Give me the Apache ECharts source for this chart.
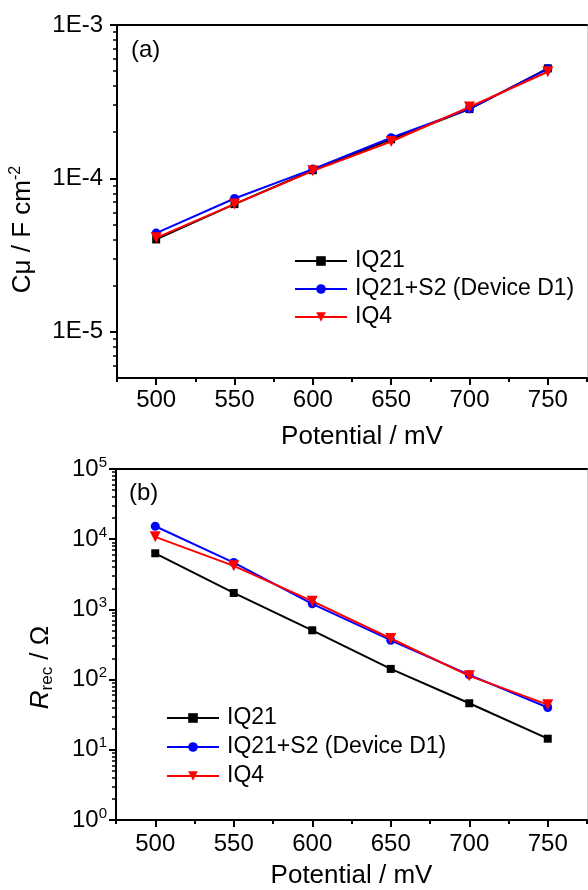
<!DOCTYPE html>
<html><head><meta charset="utf-8">
<script src="https://cdn.jsdelivr.net/npm/echarts@6/dist/echarts.min.js"></script>
<style>html,body{margin:0;padding:0;background:#fff}#c{width:588px;height:890px}</style>
</head><body><div id="c"></div>
<script>
// ---- data ----
const potentials = [500, 550, 600, 650, 700, 750];
const seriesNames = ['IQ21', 'IQ21+S2 (Device D1)', 'IQ4'];
const cmuIQ21   = [4.0e-5, 6.8e-5, 1.13e-4, 1.80e-4, 2.83e-4, 5.22e-4];
const cmuIQ21S2 = [4.4e-5, 7.4e-5, 1.15e-4, 1.84e-4, 2.84e-4, 5.18e-4];
const cmuIQ4    = [4.1e-5, 6.8e-5, 1.12e-4, 1.74e-4, 2.92e-4, 4.96e-4];
const rrecIQ21   = [6300, 1715, 504, 142, 46, 14.4];
const rrecIQ21S2 = [15300, 4650, 1200, 364, 117, 40];
const rrecIQ4    = [10800, 4170, 1310, 385, 113, 44];
const xMajorTicks = [500, 550, 600, 650, 700, 750];
const xMinorTicks = [475, 525, 575, 625, 675, 725, 775];
const cmuMajorTicks = [1e-5, 1e-4, 1e-3];
const cmuMinorTicks = [6e-6, 7e-6, 8e-6, 9e-6,
  2e-5, 3e-5, 4e-5, 5e-5, 6e-5, 7e-5, 8e-5, 9e-5,
  2e-4, 3e-4, 4e-4, 5e-4, 6e-4, 7e-4, 8e-4, 9e-4];
const rrecMajorTicks = [1, 10, 100, 1000, 10000, 100000];
const rrecMinorTicks = [2, 3, 4, 5, 6, 7, 8, 9,
  20, 30, 40, 50, 60, 70, 80, 90,
  200, 300, 400, 500, 600, 700, 800, 900,
  2000, 3000, 4000, 5000, 6000, 7000, 8000, 9000,
  20000, 30000, 40000, 50000, 60000, 70000, 80000, 90000];

const FONT = 'Liberation Sans, Arial, sans-serif';
const colors = ['#000000', '#0000ff', '#ff0000'];
const symbols = ['rect', 'circle', 'triangle'];
const symSizes = [8, 9, 11];
const symRot = [0, 0, 180];

function pairs(ys) { return potentials.map((x, i) => [x, ys[i]]); }

function xAxes(gi, titlePad, nameGap, labelMargin) {
  return [
    { gridIndex: gi, type: 'value', min: 475, max: 775, interval: 25, position: 'bottom',
      axisLine: { show: true, lineStyle: { color: '#000', width: 2 } },
      axisTick: { show: true, customValues: xMajorTicks, length: 7, lineStyle: { color: '#000', width: 2 } },
      axisLabel: { show: true, customValues: xMajorTicks, fontSize: 24, color: '#000', fontFamily: FONT, margin: labelMargin,
        formatter: v => (v % 50 === 0 ? String(v) : '') },
      splitLine: { show: false },
      name: 'Potential / mV', nameLocation: 'middle', nameGap: nameGap,
      nameTextStyle: { fontSize: 26, color: '#000', fontFamily: FONT, padding: titlePad } },
    { gridIndex: gi, type: 'value', min: 475, max: 775, interval: 25, position: 'bottom',
      axisLine: { show: false },
      axisTick: { show: true, customValues: xMinorTicks, length: 4, lineStyle: { color: '#000', width: 2 } },
      axisLabel: { show: false }, splitLine: { show: false } },
    { gridIndex: gi, type: 'value', min: 475, max: 775, position: 'top',
      axisLine: { show: true, lineStyle: { color: '#000', width: 2 } },
      axisTick: { show: false }, axisLabel: { show: false }, splitLine: { show: false } }
  ];
}

function yAxes(gi, min, max, major, minor, fmt, rich, name, nameRich, nameGap, namePad, labelMargin) {
  return [
    { gridIndex: gi, type: 'log', logBase: 10, min: min, max: max, position: 'left',
      axisLine: { show: true, lineStyle: { color: '#000', width: 2 } },
      axisTick: { show: true, customValues: major, length: 7, lineStyle: { color: '#000', width: 2 } },
      axisLabel: { show: true, customValues: major, fontSize: 24, color: '#000', fontFamily: FONT, margin: labelMargin,
        formatter: fmt, rich: rich },
      splitLine: { show: false }, minorTick: { show: false },
      name: name, nameLocation: 'middle', nameGap: nameGap,
      nameTextStyle: { fontSize: 26, color: '#000', fontFamily: FONT, padding: namePad, rich: nameRich } },
    { gridIndex: gi, type: 'log', logBase: 10, min: min, max: max, position: 'left',
      axisLine: { show: false },
      axisTick: { show: true, customValues: minor, length: 4, lineStyle: { color: '#000', width: 1.5 } },
      axisLabel: { show: false }, splitLine: { show: false } },
    { gridIndex: gi, type: 'log', logBase: 10, min: min, max: max, position: 'right',
      axisLine: { show: true, lineStyle: { color: '#d0d0d0', width: 1 } },
      axisTick: { show: false }, axisLabel: { show: false }, splitLine: { show: false } }
  ];
}

const expOf = v => Math.round(Math.log10(v));

const option = {
  backgroundColor: '#fff',
  animation: false,
  textStyle: { fontFamily: FONT },
  grid: [
    { left: 116, top: 25, width: 471, height: 353 },
    { left: 116, top: 469, width: 471, height: 354 }
  ],
  xAxis: [].concat(
    xAxes(0, [0, 0, 0, 20], 46, 10),
    xAxes(1, [0, 0, 0, 0], 43, 12)
  ),
  yAxis: [].concat(
    yAxes(0, 5e-6, 1e-3, cmuMajorTicks, cmuMinorTicks,
      v => '1E' + expOf(v), {},
      '{t|Cμ / F cm}{s|-2}',
      { t: { fontSize: 26, color: '#000', fontFamily: FONT, lineHeight: 30 },
        s: { fontSize: 16, color: '#000', fontFamily: FONT, verticalAlign: 'top', lineHeight: 16 } },
      79, [0, 56, 0, 0], 14),
    yAxes(1, 1, 1e5, rrecMajorTicks, rrecMinorTicks,
      v => '{b|10}{s|' + expOf(v) + '}',
      { b: { fontSize: 24, color: '#000', fontFamily: FONT, lineHeight: 28 },
        s: { fontSize: 15, color: '#000', fontFamily: FONT, verticalAlign: 'top', lineHeight: 20 } },
      '{i|R}{sub|rec}{t| / Ω}',
      { i: { fontSize: 26, fontStyle: 'italic', color: '#000', fontFamily: FONT, lineHeight: 30 },
        sub: { fontSize: 17, color: '#000', fontFamily: FONT, verticalAlign: 'bottom', lineHeight: 14 },
        t: { fontSize: 26, color: '#000', fontFamily: FONT, lineHeight: 30 } },
      60, [0, 46, 0, 0], 9)
  ),
  legend: [
    { data: seriesNames, orient: 'vertical', left: 289, top: 242, itemWidth: 52, itemHeight: 12, itemGap: 0,
      textStyle: { fontSize: 23, color: '#000', fontFamily: FONT, lineHeight: 28, padding: [0, 0, 0, 3] },
      selectedMode: false },
    { data: seriesNames, orient: 'vertical', left: 161, top: 699, itemWidth: 52, itemHeight: 12, itemGap: 1,
      textStyle: { fontSize: 23, color: '#000', fontFamily: FONT, lineHeight: 28, padding: [0, 0, 0, 3] },
      selectedMode: false }
  ],
  graphic: [
    { type: 'text', left: 131, top: 38, style: { text: '(a)', fontSize: 24, fill: '#000', fontFamily: FONT } },
    { type: 'text', left: 129, top: 481, style: { text: '(b)', fontSize: 24, fill: '#000', fontFamily: FONT } }
  ],
  series: []
};

const topData = [cmuIQ21, cmuIQ21S2, cmuIQ4];
const botData = [rrecIQ21, rrecIQ21S2, rrecIQ4];
[0, 1].forEach(panel => {
  const d = panel === 0 ? topData : botData;
  for (let k = 0; k < 3; k++) {
    option.series.push({
      name: seriesNames[k], type: 'line',
      xAxisIndex: panel * 3, yAxisIndex: panel * 3,
      data: pairs(d[k]),
      symbol: symbols[k], symbolSize: symSizes[k], symbolRotate: symRot[k], showSymbol: true,
      itemStyle: { color: colors[k] },
      lineStyle: { color: colors[k], width: 2 },
      z: 3 + k
    });
  }
});

const chart = echarts.init(document.getElementById('c'), null, { renderer: 'canvas' });
chart.setOption(option);
</script>
</body></html>
